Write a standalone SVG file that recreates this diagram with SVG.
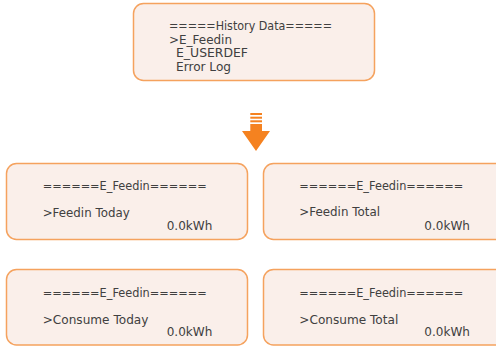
<svg xmlns="http://www.w3.org/2000/svg" width="496" height="347" viewBox="0 0 496 347">
<style>
.box{fill:#FAEFEA;stroke:#F5A25E;stroke-width:1.5}
.t{font-family:"DejaVu Sans","Liberation Sans",sans-serif;fill:#404040}
.s{font-size:11.8px}
.b{font-size:11.5px}
.arr{fill:#F58220}
</style>
<g id="history">
<rect class="box" x="133.5" y="3.5" width="241" height="77" rx="10"/>
<text class="t s" x="169" y="30" textLength="163" lengthAdjust="spacingAndGlyphs">=====History Data=====</text>
<text class="t s" x="169" y="43.5" textLength="63" lengthAdjust="spacingAndGlyphs">&gt;E_Feedin</text>
<text class="t s" x="176" y="57.3" textLength="72" lengthAdjust="spacingAndGlyphs">E_USERDEF</text>
<text class="t s" x="176" y="70.7" textLength="55" lengthAdjust="spacingAndGlyphs">Error Log</text>
</g>
<g id="connectors">
<rect class="arr" x="250.3" y="113" width="11.7" height="2"/>
<rect class="arr" x="250.3" y="116.7" width="11.7" height="2"/>
<rect class="arr" x="250.3" y="120.3" width="11.7" height="2"/>
<path class="arr" d="M250.3 124H262V131H270L256 151L242 131H250.3Z"/>
</g>
<g id="feedin-today">
<rect class="box" x="6.5" y="163.5" width="241" height="76" rx="10"/>
<text class="t b" x="42.7" y="190" textLength="164" lengthAdjust="spacingAndGlyphs">======E_Feedin======</text>
<text class="t b" x="42.7" y="216.5" textLength="87" lengthAdjust="spacingAndGlyphs">&gt;Feedin Today</text>
<text class="t b" x="166.7" y="229.5" textLength="45.7" lengthAdjust="spacingAndGlyphs">0.0kWh</text>
</g>
<g id="feedin-total">
<rect class="box" x="263.5" y="163.5" width="241" height="76" rx="10"/>
<text class="t b" x="299.3" y="189.5" textLength="164" lengthAdjust="spacingAndGlyphs">======E_Feedin======</text>
<text class="t b" x="299.3" y="215.5" textLength="80.7" lengthAdjust="spacingAndGlyphs">&gt;Feedin Total</text>
<text class="t b" x="424.3" y="229.5" textLength="45.7" lengthAdjust="spacingAndGlyphs">0.0kWh</text>
</g>
<g id="consume-today">
<rect class="box" x="6.5" y="269.5" width="241" height="75.5" rx="10"/>
<text class="t b" x="42.7" y="297" textLength="164" lengthAdjust="spacingAndGlyphs">======E_Feedin======</text>
<text class="t b" x="42.7" y="324.3" textLength="105.7" lengthAdjust="spacingAndGlyphs">&gt;Consume Today</text>
<text class="t b" x="166.7" y="336" textLength="45.7" lengthAdjust="spacingAndGlyphs">0.0kWh</text>
</g>
<g id="consume-total">
<rect class="box" x="263.5" y="269.5" width="241" height="75.5" rx="10"/>
<text class="t b" x="299.3" y="297" textLength="164" lengthAdjust="spacingAndGlyphs">======E_Feedin======</text>
<text class="t b" x="299.3" y="323.7" textLength="99" lengthAdjust="spacingAndGlyphs">&gt;Consume Total</text>
<text class="t b" x="424.3" y="336" textLength="45.7" lengthAdjust="spacingAndGlyphs">0.0kWh</text>
</g>
</svg>
